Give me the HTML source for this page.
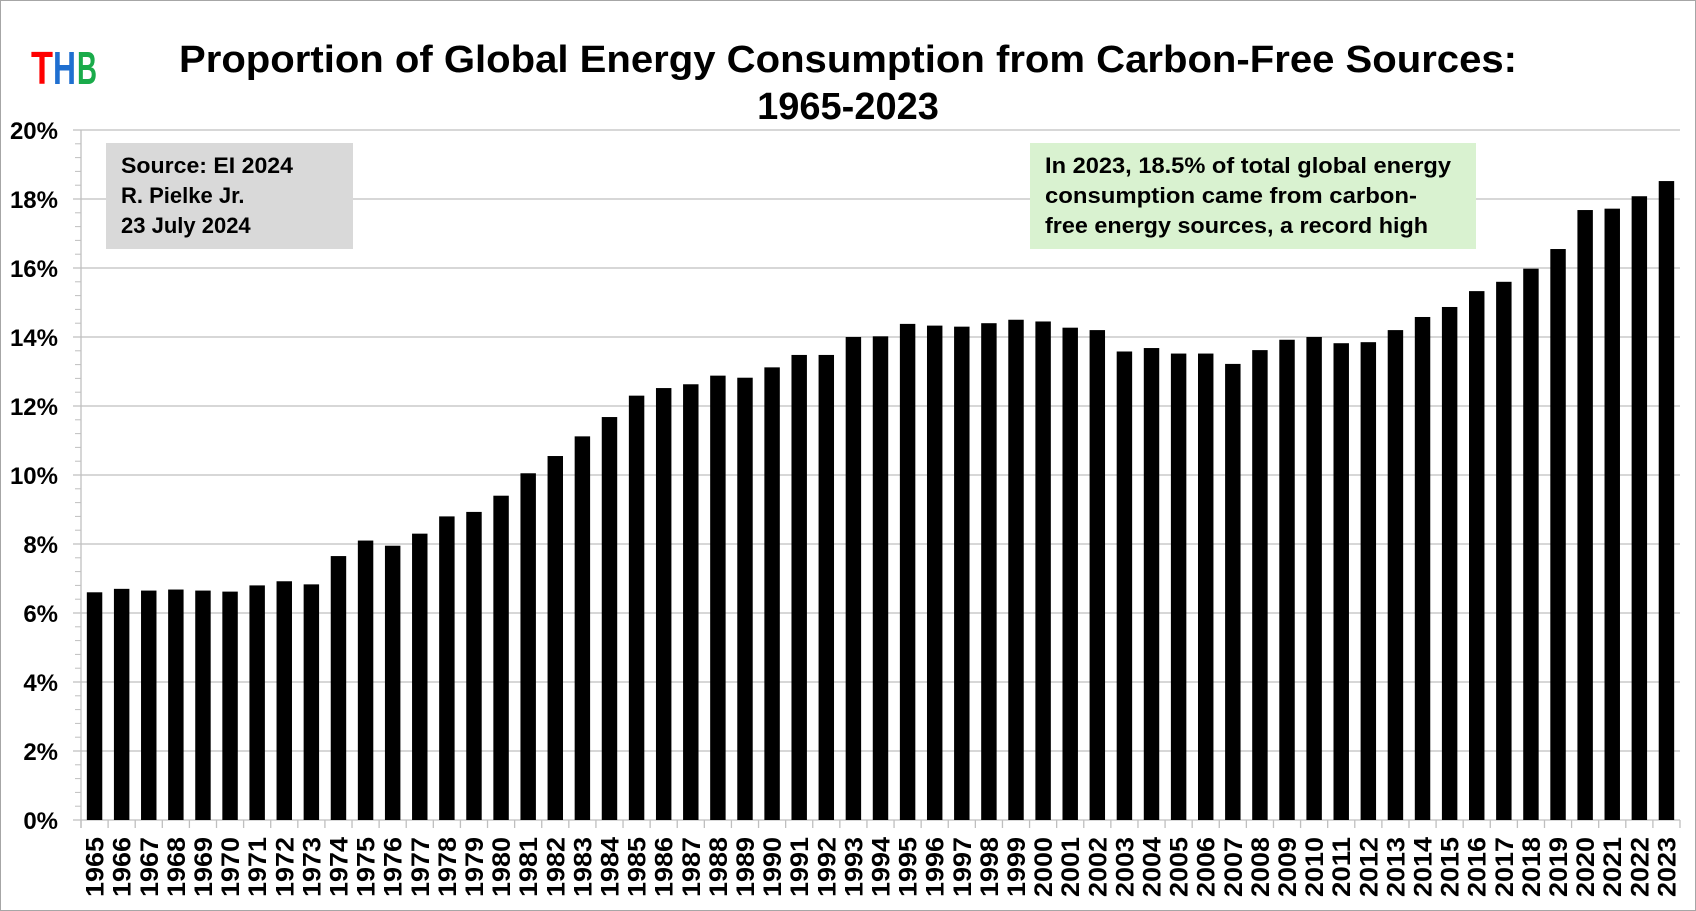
<!DOCTYPE html>
<html><head><meta charset="utf-8"><style>
body{margin:0;background:#fff;}
svg{display:block;font-family:"Liberation Sans",sans-serif;}
</style></head><body>
<svg id="chart" width="1696" height="911" viewBox="0 0 1696 911">
<rect x="0.5" y="0.5" width="1695" height="910" fill="#fff" stroke="#a6a6a6"/>
<g font-weight="bold" font-size="46" style="font-family:'Liberation Sans Narrow','Liberation Sans',sans-serif">
<text x="31" y="84" fill="#ff0000" textLength="22" lengthAdjust="spacingAndGlyphs">T</text>
<text x="53" y="84" fill="#1f6fd0" textLength="23" lengthAdjust="spacingAndGlyphs">H</text>
<text x="77" y="84" fill="#1aab4a" textLength="20" lengthAdjust="spacingAndGlyphs">B</text>
</g>
<text x="848" y="72" text-anchor="middle" font-size="38" font-weight="bold" textLength="1338" lengthAdjust="spacingAndGlyphs">Proportion of Global Energy Consumption from Carbon-Free Sources:</text>
<text x="848" y="119" text-anchor="middle" font-size="38" font-weight="bold">1965-2023</text>
<g id="grid"></g><g id="bars"></g><g id="axes"></g>
<g font-size="22" font-weight="bold">
<rect x="106" y="143" width="247" height="106" fill="#d9d9d9"/>
<text x="121" y="173" textLength="172" lengthAdjust="spacingAndGlyphs">Source: EI 2024</text>
<text x="121" y="203">R. Pielke Jr.</text>
<text x="121" y="233">23 July 2024</text>
</g>
<g font-size="22" font-weight="bold">
<rect x="1030" y="143" width="446" height="106" fill="#d9f2d0"/>
<text x="1045" y="173" textLength="406" lengthAdjust="spacingAndGlyphs">In 2023, 18.5% of total global energy</text>
<text x="1045" y="203" textLength="372" lengthAdjust="spacingAndGlyphs">consumption came from carbon-</text>
<text x="1045" y="233" textLength="383" lengthAdjust="spacingAndGlyphs">free energy sources, a record high</text>
</g>
</svg>
<script>
const years=[];for(let y=1965;y<=2023;y++)years.push(String(y));
const shares=[6.6,6.7,6.65,6.68,6.65,6.62,6.8,6.92,6.83,7.65,8.1,7.95,8.3,8.8,8.93,9.4,10.05,10.55,11.12,11.68,12.3,12.52,12.63,12.88,12.82,13.12,13.48,13.48,14.0,14.02,14.38,14.33,14.3,14.4,14.5,14.45,14.27,14.2,13.58,13.68,13.52,13.52,13.22,13.62,13.92,14.0,13.82,13.85,14.2,14.58,14.87,15.33,15.6,15.98,16.55,17.68,17.72,18.08,18.52];
const yTicks=[0,2,4,6,8,10,12,14,16,18,20];
const NS='http://www.w3.org/2000/svg';
const X0=81,X1=1680,Y0=820,Y1=130,YMAX=20;
const step=(X1-X0)/years.length;
function yS(v){return Y0-(v/YMAX)*(Y0-Y1);}
function xS(i){return X0+i*step;}
function mk(t,a,p){const e=document.createElementNS(NS,t);for(const k in a)e.setAttribute(k,a[k]);p.appendChild(e);return e;}
const grid=document.getElementById('grid'),bars=document.getElementById('bars'),axes=document.getElementById('axes');
yTicks.forEach(v=>{
 const l=mk('line',{x1:73,x2:X1,y1:yS(v),y2:yS(v),stroke:'#bfbfbf','stroke-width':1.3},grid);
 
 
 const t=mk('text',{x:58,y:yS(v)+9,'text-anchor':'end','font-size':24,'font-weight':'bold'},axes);
 t.textContent=v+'%';
 
 
});
for(let v=0;v<YMAX;v+=0.4){const y=yS(v);mk('line',{x1:75,x2:81,y1:y,y2:y,stroke:'#bfbfbf','stroke-width':1},axes);}
const ax=mk('line',{x1:X0,x2:X0,y1:Y1,y2:Y0+8,stroke:'#bfbfbf','stroke-width':1.3},axes);


years.forEach((yr,i)=>{
 const bw=step*0.57;
 const r=mk('rect',{x:xS(i)+(step-bw)/2,y:yS(shares[i]),width:bw,height:Y0-yS(shares[i]),fill:'#000'},bars);
 
 
 mk('line',{x1:xS(i),x2:xS(i),y1:Y0,y2:Y0+8,stroke:'#bfbfbf','stroke-width':1.3},axes);
 const cx=xS(i)+step/2+9;
 const t=mk('text',{x:cx,y:897,'font-size':25,'font-weight':'bold',transform:'rotate(-90 '+cx+' 897)',textLength:60,lengthAdjust:'spacingAndGlyphs'},axes);
 t.textContent=yr;
 
 
});
mk('line',{x1:X1,x2:X1,y1:Y0,y2:Y0+8,stroke:'#bfbfbf','stroke-width':1.3},axes);
</script>
</body></html>
